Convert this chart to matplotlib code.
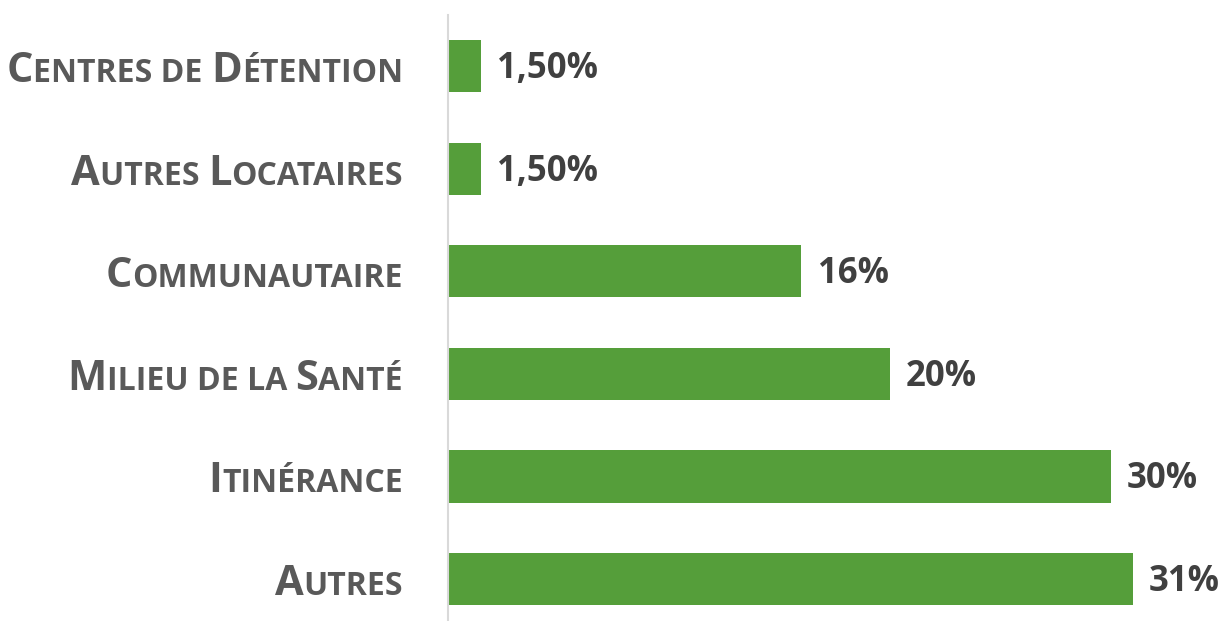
import matplotlib.pyplot as plt
from matplotlib.offsetbox import TextArea, HPacker, AnnotationBbox

# categories from bottom to top
categories = ["Autres", "Itinérance", "Milieu de la Santé", "Communautaire",
              "Autres Locataires", "Centres de Détention"]
values = [31, 30, 20, 16, 1.5, 1.5]
value_labels = ["31%", "30%", "20%", "16%", "1,50%", "1,50%"]

green = "#559E3A"
label_color = "#595959"
value_color = "#404040"
font = "Open Sans"


def small_caps(text, big, small, color):
    # split the text into runs: capitals large, the rest as small capitals
    runs = []
    for ch in text:
        is_big = ch.isupper()
        if runs and runs[-1][1] == is_big:
            runs[-1][0] += ch
        else:
            runs.append([ch, is_big])
    boxes = []
    for s, is_big in runs:
        boxes.append(TextArea(s.upper(), textprops=dict(
            fontsize=big if is_big else small, color=color,
            fontweight="bold", family=font)))
    return HPacker(children=boxes, align="baseline", pad=0, sep=0)


fig = plt.figure(figsize=(12.27, 6.21), dpi=100)
ax = fig.add_axes([447.5 / 1227, 0, 773.5 / 1227, 1 - 15 / 621])

y = list(range(len(categories)))
ax.barh(y, values, height=0.51, color=green)
ax.set_xlim(0, 35)
ax.set_ylim(-0.41, 5.5)

for i, v in enumerate(values):
    ax.text(v + 0.75, i - 0.03, value_labels[i], va="center", ha="left",
            fontsize=25, fontweight="bold", color=value_color, family=font)
    box = small_caps(categories[i], 30, 23, label_color)
    ab = AnnotationBbox(box, (0, i), xycoords=("axes fraction", "data"),
                        xybox=(-32, -4), boxcoords="offset points",
                        box_alignment=(1, 0.5), frameon=False)
    ax.add_artist(ab)

ax.set_xticks([])
ax.set_yticks([])
for s in ["top", "right", "bottom"]:
    ax.spines[s].set_visible(False)
ax.spines["left"].set_color("#D9D9D9")
ax.spines["left"].set_linewidth(1.5)

fig.savefig("out.png", dpi=100)
